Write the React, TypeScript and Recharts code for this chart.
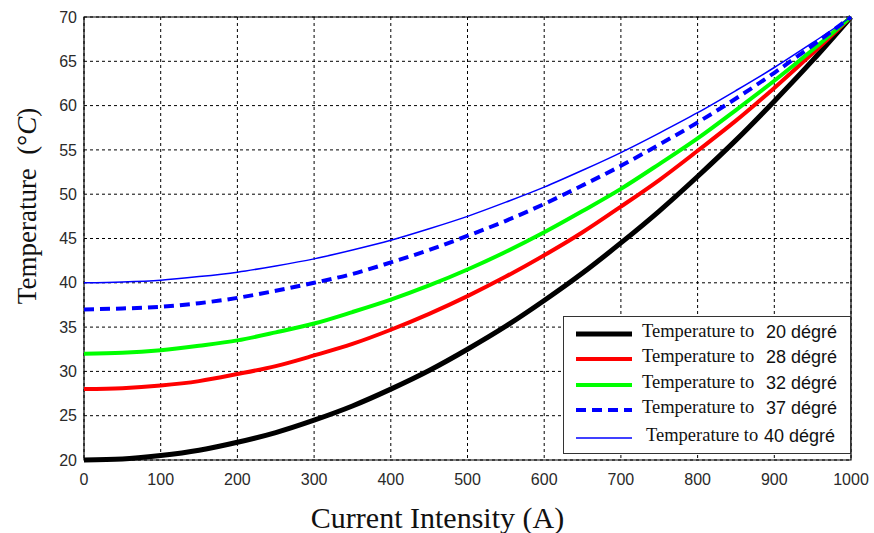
import React from "react";
import { LineChart, Line, XAxis, YAxis, CartesianGrid, ReferenceArea, Label } from "recharts";

const currents = [0, 50, 100, 150, 200, 250, 300, 350, 400, 450, 500, 550, 600, 650, 700, 750, 800, 850, 900, 950, 1000];
const temp20 = [20, 20.1, 20.5, 21.1, 22, 23.1, 24.5, 26.1, 28, 30.1, 32.5, 35.1, 38, 41.1, 44.5, 48.1, 52, 56.1, 60.5, 65.1, 70];
const temp28 = [28, 28.1, 28.4, 28.9, 29.7, 30.6, 31.8, 33.1, 34.7, 36.5, 38.5, 40.7, 43.1, 45.7, 48.6, 51.6, 54.9, 58.3, 62, 65.9, 70];
const temp32 = [32, 32.1, 32.4, 32.9, 33.5, 34.4, 35.4, 36.7, 38.1, 39.7, 41.5, 43.5, 45.7, 48.1, 50.6, 53.4, 56.3, 59.5, 62.8, 66.3, 70];
const temp37 = [37, 37.1, 37.3, 37.7, 38.3, 39.1, 40, 41, 42.3, 43.7, 45.3, 47, 48.9, 51, 53.2, 55.6, 58.1, 60.8, 63.7, 66.8, 70];
const temp40 = [40, 40.1, 40.3, 40.7, 41.2, 41.9, 42.7, 43.7, 44.8, 46.1, 47.5, 49.1, 50.8, 52.7, 54.7, 56.9, 59.2, 61.7, 64.3, 67.1, 70];

const xTicks = [0, 100, 200, 300, 400, 500, 600, 700, 800, 900, 1000];
const yTicks = [20, 25, 30, 35, 40, 45, 50, 55, 60, 65, 70];

const series = [
  { key: "t20", values: temp20, color: "#000000", width: 5, dash: undefined as string | undefined, label: "20 dégré" },
  { key: "t28", values: temp28, color: "#ff0000", width: 4, dash: undefined, label: "28 dégré" },
  { key: "t32", values: temp32, color: "#00ff00", width: 4, dash: undefined, label: "32 dégré" },
  { key: "t37", values: temp37, color: "#0000ff", width: 4, dash: "10 6", label: "37 dégré" },
  { key: "t40", values: temp40, color: "#0000ff", width: 1.5, dash: undefined, label: "40 dégré" },
];

const data = currents.map((c, i) => {
  const row: Record<string, number> = { current: c };
  series.forEach((s) => (row[s.key] = s.values[i]));
  return row;
});

const serif = "'Liberation Serif', 'Times New Roman', serif";
const sans = "'Liberation Sans', Arial, sans-serif";
const tickStyle = { fontFamily: sans, fontSize: 16, fill: "#2a2a2a" };

const YLabel = () => {
  const cx = 27;
  const cy = 206;
  return (
    <text
      x={cx}
      y={cy}
      transform={`rotate(-90, ${cx}, ${cy})`}
      textAnchor="middle"
      dominantBaseline="central"
      style={{ fontFamily: serif, fontSize: 27, fill: "#111" }}
    >
      Temperature{"\u00a0\u00a0"}(°<tspan fontStyle="italic">C</tspan>)
    </text>
  );
};

export default function App() {
  return (
    <div style={{ position: "absolute", left: 0, top: 0, width: 874, height: 533, background: "#fff" }}>
      <LineChart
        width={874}
        height={533}
        data={data}
        margin={{ top: 17, right: 23, bottom: 43, left: 24 }}
      >
        <CartesianGrid stroke="#000" strokeDasharray="3 3" strokeWidth={1} vertical horizontal />
        <XAxis
          dataKey="current"
          type="number"
          domain={[0, 1000]}
          ticks={xTicks}
          interval={0}
          tick={tickStyle}
          tickLine={false}
          axisLine={false}
          height={30}
          tickMargin={8}
        >
          <Label
            value="Current Intensity (A)"
            position="insideBottom"
            offset={-38}
            dx={-30}
            style={{ fontFamily: serif, fontSize: 30, fill: "#111" }}
          />
        </XAxis>
        <YAxis
          type="number"
          domain={[20, 70]}
          ticks={yTicks}
          interval={0}
          tick={tickStyle}
          tickLine={false}
          axisLine={false}
          width={60}
          tickMargin={1}
        >
          <Label content={<YLabel />} />
        </YAxis>
        <ReferenceArea x1={0} x2={1000} y1={20} y2={70} fill="none" stroke="#000" strokeWidth={1.2} ifOverflow="visible" />
        {series.map((s) => (
          <Line
            key={s.key}
            dataKey={s.key}
            type="monotone"
            stroke={s.color}
            strokeWidth={s.width}
            strokeDasharray={s.dash}
            dot={false}
            activeDot={false}
            isAnimationActive={false}
          />
        ))}
      </LineChart>
      <div
        style={{
          position: "absolute",
          left: 563,
          top: 316,
          width: 286,
          height: 136,
          border: "1.5px solid #333",
          background: "#fff",
        }}
      >
        {series.map((s, i) => (
          <div
            key={s.key}
            style={{ position: "absolute", left: 0, top: [17, 42, 68, 93, 121][i] - 12, height: 24, width: 286 }}
          >
            <svg style={{ position: "absolute", left: 11, top: 0 }} width={58} height={24}>
              <line x1={1} y1={12} x2={57} y2={12} stroke={s.color} strokeWidth={s.width} strokeDasharray={s.dash} />
            </svg>
            <span
              style={{
                position: "absolute",
                left: i === 4 ? 82 : 78,
                top: -1,
                fontFamily: serif,
                fontSize: 18.5,
                color: "#111",
                whiteSpace: "nowrap",
              }}
            >
              Temperature to
            </span>
            <span
              style={{
                position: "absolute",
                left: i === 4 ? 200 : 202,
                top: 0,
                fontFamily: sans,
                fontSize: 18,
                color: "#111",
                whiteSpace: "nowrap",
              }}
            >
              {s.label}
            </span>
          </div>
        ))}
      </div>
    </div>
  );
}
